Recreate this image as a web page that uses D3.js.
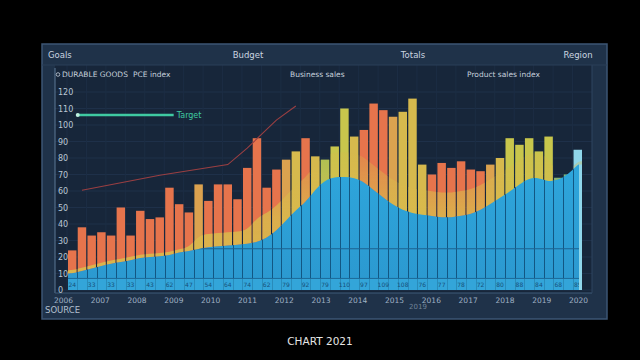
<!DOCTYPE html>
<html><head><meta charset="utf-8">
<script src="https://cdn.jsdelivr.net/npm/d3@7"></script>
<style>html,body{margin:0;padding:0;background:#000;}svg{display:block;}</style>
</head><body>
<svg id="chart" width="640" height="360"></svg>
<script>
// ---- data ----
const barValues = [24,38,33,35,33,50,33,48,43,44,62,52,47,64,54,64,64,55,74,92,62,73,79,84,92,81,79,87,110,93,97,113,109,105,108,116,76,70,77,74,78,73,72,76,80,92,88,92,84,93,68,70,85];
const barTones  = ["o","o","o","o","o","o","o","o","o","o","o","o","o","t","o","o","o","o","o","o","o","o","t","y","o","y","g","l","l","y","o","o","o","t","y","y","y","o","o","o","o","o","o","t","y","l","l","l","l","l","c","c","s"];
const areaValues = [10,11.5,13,14.5,16,17,18,19.5,20,20.5,21,23,23.5,25,26,26.5,27,27.5,28,29,31.5,36,42,48.5,53,61,66.5,68.5,68.5,68,65.5,60.5,56,51.5,48.5,46.5,45.5,45,44,44,45,46,48.5,52,56,59.5,64,68,68,65.5,66.5,70,76];
const bandValues = [12,13.5,15,16.5,18,19,20,21.5,22,22.5,23,25,25.5,33,34,34.5,35,35.5,36,44,46.5,51,57,63.5,68,76,81.5,83.5,83.5,83,80.5,75.5,71,66.5,63.5,61.5,60.5,60,59,59,60,61,63.5,67,71,74.5,79,83,83,80.5,68.5,72,78];
const trendIndex = [1,9,16,18,21,23];
const trendValues = [60.5,69.5,76,86,103,111.5];
const targetValue = 106;
const targetSpan = [1,10];
const yTicks = [0,10,20,30,40,50,60,70,80,90,100,110,120];
const xTickLabels = ["2006","2007","2008","2009","2010","2011","2012","2013","2014","2015","2016","2017","2018","2019","2020"];
const headerLabels = ["Goals","Budget","Totals","Region"];
const subLabels = ["DURABLE GOODS","PCE index","Business sales","Product sales index"];
const toneColors = {o:"#e6744c", t:"#dba24f", y:"#d6b94d", g:"#9fc456", l:"#c8c64c", c:"#3fae98", s:"#8fd6ea"};

// ---- layout ----
const svg = d3.select("#chart");
const W = 640, H = 360;
const panel = {x0:42, y0:44, x1:607, y1:319};
const plot = {x0:55, y0:65, x1:592, y1:293};

svg.append("rect").attr("width",W).attr("height",H).attr("fill","#000");
svg.append("rect").attr("x",panel.x0).attr("y",panel.y0).attr("width",panel.x1-panel.x0).attr("height",panel.y1-panel.y0)
  .attr("fill","#1f3249").attr("stroke","#3d5674").attr("stroke-width",1.5);
svg.append("rect").attr("x",plot.x0).attr("y",plot.y0).attr("width",plot.x1-plot.x0).attr("height",plot.y1-plot.y0)
  .attr("fill","#17263a");

const idx = d3.range(barValues.length);
const x = d3.scaleBand().domain(idx).range([68,582]).paddingInner(0.13).paddingOuter(0);
const y = d3.scaleLinear().domain([0,120]).range([290,92]);
const cx = i => x(i) + x.bandwidth()/2;

// background grid
const grid = svg.append("g");
grid.selectAll("line.h").data(yTicks).join("line")
  .attr("x1",plot.x0).attr("x2",plot.x1).attr("y1",d=>y(d)).attr("y2",d=>y(d))
  .attr("stroke","#1e3049").attr("stroke-width",1);
grid.selectAll("line.v").data(idx.filter(i=>i%2===0)).join("line")
  .attr("x1",d=>x(d)-1).attr("x2",d=>x(d)-1).attr("y1",plot.y0).attr("y2",290)
  .attr("stroke","#1c2d44").attr("stroke-width",1);

// bars
const defs = svg.append("defs");
const barClip = defs.append("clipPath").attr("id","barclip");
barClip.selectAll("rect").data(idx).join("rect")
  .attr("x",i=>x(i)).attr("width",x.bandwidth()).attr("y",i=>y(barValues[i])).attr("height",i=>y(0)-y(barValues[i]));

svg.append("g").selectAll("rect").data(idx).join("rect")
  .attr("x",i=>x(i)).attr("width",x.bandwidth())
  .attr("y",i=>y(barValues[i])).attr("height",i=>y(0)-y(barValues[i]))
  .attr("fill",i=>toneColors[barTones[i]]);

// yellow tint band on lower bars
const grad = defs.append("linearGradient").attr("id","bandgrad").attr("x1",0).attr("x2",0).attr("y1",0).attr("y2",1);
grad.append("stop").attr("offset","0").attr("stop-color","#d9b94c").attr("stop-opacity",0.25);
grad.append("stop").attr("offset","0.55").attr("stop-color","#d9b94c").attr("stop-opacity",0.85);
grad.append("stop").attr("offset","1").attr("stop-color","#d9b94c").attr("stop-opacity",0.95);
const areaPts = idx.map(i=>({x:cx(i), a:areaValues[i], b:bandValues[i]}));
const ext = [{x:68,a:areaValues[0],b:bandValues[0]}, ...areaPts, {x:582,a:areaValues[areaValues.length-1],b:bandValues[bandValues.length-1]}];
svg.append("path").datum(ext).attr("clip-path","url(#barclip)")
  .attr("d",d3.area().x(d=>d.x).y0(d=>y(d.a)).y1(d=>y(d.b)).curve(d3.curveBasis))
  .attr("fill","url(#bandgrad)");

// blue area
const blueGrad = defs.append("linearGradient").attr("id","bluegrad").attr("x1",0).attr("x2",0).attr("y1",0).attr("y2",1);
blueGrad.append("stop").attr("offset","0").attr("stop-color","#2ea6dc");
blueGrad.append("stop").attr("offset","1").attr("stop-color","#2b98cf");
const areaGen = d3.area().x(d=>d.x).y0(y(0)).y1(d=>y(d.a)).curve(d3.curveBasis);
const blueExt = [{x:68,a:areaValues[0]}, ...areaPts, {x:579,a:areaValues[areaValues.length-1]}];
defs.append("clipPath").attr("id","areaclip").append("path").datum(blueExt).attr("d",areaGen);
svg.append("path").datum(blueExt).attr("d",areaGen).attr("fill","url(#bluegrad)");

// lines inside blue area
const inArea = svg.append("g").attr("clip-path","url(#areaclip)");
inArea.selectAll("line").data(idx.slice(1)).join("line")
  .attr("x1",i=>Math.round(x(i)-x.step()*x.paddingInner()/2)+0.5).attr("x2",i=>Math.round(x(i)-x.step()*x.paddingInner()/2)+0.5)
  .attr("y1",plot.y0).attr("y2",290).attr("stroke","#125783").attr("stroke-width",1);
inArea.append("line").attr("x1",plot.x0).attr("x2",plot.x1).attr("y1",y(25)).attr("y2",y(25))
  .attr("stroke","#1d6290").attr("stroke-width",1);
inArea.append("rect").attr("x",plot.x0).attr("width",plot.x1-plot.x0).attr("y",y(7)).attr("height",y(0)-y(7))
  .attr("fill","#38addf").attr("opacity",0.6);
inArea.append("line").attr("x1",plot.x0).attr("x2",plot.x1).attr("y1",y(7)).attr("y2",y(7))
  .attr("stroke","#1d6a98").attr("stroke-width",1);
inArea.selectAll("text").data(idx.filter(i=>i%2===0)).join("text")
  .attr("x",i=>cx(i)).attr("y",y(1.8)).attr("text-anchor","middle")
  .attr("font-family","DejaVu Sans").attr("font-size",6).attr("fill","#17507a")
  .text(i=>barValues[i]);

// trend line
svg.append("path").datum(trendIndex.map((d,k)=>[cx(d),y(trendValues[k])]))
  .attr("d",d3.line()).attr("fill","none").attr("stroke","#9a3f42").attr("stroke-width",1.1);

// target line
svg.append("line").attr("x1",x(targetSpan[0])).attr("x2",x(targetSpan[1])+x.bandwidth())
  .attr("y1",y(targetValue)).attr("y2",y(targetValue)).attr("stroke","#3fcaa2").attr("stroke-width",2.5);
svg.append("circle").attr("cx",x(targetSpan[0])).attr("cy",y(targetValue)).attr("r",2).attr("fill","#bff0e0");
svg.append("text").attr("x",x(targetSpan[1])+x.bandwidth()+3).attr("y",y(targetValue)+3)
  .attr("font-family","DejaVu Sans").attr("font-size",8).attr("fill","#3fcaa2").text("Target");

// axes frame
svg.append("line").attr("x1",plot.x0).attr("x2",plot.x0).attr("y1",plot.y0+3).attr("y2",plot.y1).attr("stroke","#5d7896").attr("stroke-width",1);
svg.append("line").attr("x1",plot.x0).attr("x2",plot.x1).attr("y1",plot.y1).attr("y2",plot.y1).attr("stroke","#3f5a78").attr("stroke-width",1);
svg.append("line").attr("x1",plot.x1).attr("x2",plot.x1).attr("y1",plot.y0).attr("y2",plot.y1).attr("stroke","#2e4560").attr("stroke-width",1);
svg.append("line").attr("x1",panel.x0).attr("x2",panel.x1).attr("y1",plot.y0).attr("y2",plot.y0).attr("stroke","#2a3f58").attr("stroke-width",1);

// y tick labels
const yAxis = d3.axisRight(y).tickValues(yTicks).tickSize(0).tickPadding(3);
const ya = svg.append("g").attr("transform",`translate(${plot.x0},0)`).call(yAxis);
ya.select(".domain").remove();
ya.selectAll("text").attr("font-family","DejaVu Sans").attr("font-size",8).attr("fill","#b9c6d4");

// x tick labels
const xl = d3.scalePoint().domain(xTickLabels).range([63,578]);
const xa = svg.append("g").attr("transform",`translate(0,${plot.y1})`).call(d3.axisBottom(xl).tickSize(0).tickPadding(5));
xa.select(".domain").remove();
xa.selectAll("text").attr("font-family","DejaVu Sans").attr("font-size",7.5).attr("fill","#9fb1c4");

// header labels
const headerX = [48,248,413,578];
svg.append("g").selectAll("text").data(headerLabels).join("text")
  .attr("x",(d,i)=>headerX[i]).attr("y",58).attr("text-anchor",(d,i)=>i===0?"start":"middle")
  .attr("font-family","DejaVu Sans").attr("font-size",8.5).attr("fill","#cbd5e0").text(d=>d);

// sub labels
const subX = [62,133,290,467];
svg.append("g").selectAll("text").data(subLabels).join("text")
  .attr("x",(d,i)=>subX[i]).attr("y",77)
  .attr("font-family","DejaVu Sans").attr("font-size",7.5).attr("fill","#c6d0dc").text(d=>d);
svg.append("circle").attr("cx",58).attr("cy",74.5).attr("r",1.8).attr("fill","none").attr("stroke","#c6d0dc").attr("stroke-width",0.8);

// footer texts
svg.append("text").attr("x",45).attr("y",313).attr("font-family","DejaVu Sans").attr("font-size",8.5).attr("fill","#b3c0cf").text("SOURCE");
svg.append("text").attr("x",418).attr("y",309).attr("text-anchor","middle").attr("font-family","DejaVu Sans").attr("font-size",7).attr("fill","#6f8399").text("2019");
svg.append("text").attr("x",W/2).attr("y",345).attr("text-anchor","middle").attr("font-family","DejaVu Sans").attr("font-size",10.5).attr("fill","#e6e6e6").text("CHART 2021");
</script>
</body></html>
